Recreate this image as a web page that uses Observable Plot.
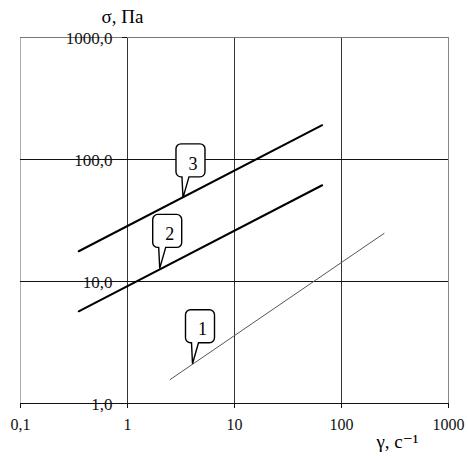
<!DOCTYPE html>
<html>
<head>
<meta charset="utf-8">
<script src="https://cdn.jsdelivr.net/npm/d3@7"></script>
<script src="https://cdn.jsdelivr.net/npm/@observablehq/plot@0.6"></script>
<style>
  html, body { margin: 0; padding: 0; background: #fff; }
  #chart { width: 468px; height: 456px; }
  #chart svg, #chart svg text { font-family: "Liberation Serif", "DejaVu Serif", serif !important; }
</style>
</head>
<body>
<div id="chart"></div>
<script>
// Axis ticks
const xTicks = [0.1, 1, 10, 100, 1000];
const xTickLabels = ["0,1", "1", "10", "100", "1000"];
const yTicks = [1, 10, 100, 1000];
const yTickLabels = ["1,0", "10,0", "100,0", "1000,0"];
const xTitle = "γ, с⁻¹";
const yTitle = "σ, Па";

// Series (straight lines in log-log, read at their ends)
const seriesIds = ["1", "2", "3"];
const seriesX = [[2.5, 250], [0.35, 66], [0.35, 66]];
const seriesY = [[1.57, 24.8], [5.7, 61.5], [17.7, 191]];

// Callout anchor points on the lines
const calloutIds = ["1", "2", "3"];
const calloutX = [4.05, 2.0, 3.3];
const calloutY = [2.12, 12.8, 48.5];

const lineRows = seriesIds.flatMap((id, i) =>
  seriesX[i].map((x, j) => ({id, x, y: seriesY[i][j]})));
const callouts = calloutIds.map((id, i) => ({id, x: calloutX[i], y: calloutY[i]}));
const xLabelOf = new Map(xTicks.map((t, i) => [t, xTickLabels[i]]));
const yRows = yTicks.map((t, i) => ({y: t, label: yTickLabels[i]}));

// Callout balloon symbol drawn relative to its anchor (the tip)
const balloon = {
  draw(ctx) {
    const L = -7, R = 22, T = -54, B = -21, r = 5;
    ctx.moveTo(L + r, T);
    ctx.lineTo(R - r, T);
    ctx.arcTo(R, T, R, T + r, r);
    ctx.lineTo(R, B - r);
    ctx.arcTo(R, B, R - r, B, r);
    ctx.lineTo(6, B);
    ctx.lineTo(0, 0);
    ctx.lineTo(-1, B);
    ctx.lineTo(L + r, B);
    ctx.arcTo(L, B, L, B - r, r);
    ctx.lineTo(L, T + r);
    ctx.arcTo(L, T, L + r, T, r);
    ctx.closePath();
  }
};

const font = "Liberation Serif";

const chart = Plot.plot({
  width: 468,
  height: 456,
  marginLeft: 20,
  marginRight: 20,
  marginTop: 37,
  marginBottom: 53,
  style: {fontFamily: font, background: "#fff", overflow: "visible"},
  x: {type: "log", domain: [0.1, 1000], axis: null},
  y: {type: "log", domain: [1, 1000], axis: null},
  marks: [
    // vertical grid
    Plot.ruleX(xTicks, {stroke: (d, i) => i === 0 ? "#b0b0b0" : (i === 4 ? "#888" : "#333"), strokeWidth: 1}),
    // horizontal grid
    Plot.ruleY(yTicks, {stroke: (d, i) => i === 3 ? "#777" : "#111", strokeWidth: 1}),
    // y-axis tick marks at x = 1
    Plot.ruleY(yTicks, {x1: 1, x2: 1, insetLeft: -5, stroke: "#111"}),
    // x-axis tick marks below the axis
    Plot.ruleX(xTicks, {y1: 1, y2: 1, insetBottom: -5, stroke: "#111"}),
    // y tick labels next to the vertical axis at x = 1
    Plot.text(yRows, {x: () => 1, y: "y", text: "label", textAnchor: "end", dx: -15, dy: 1, fontSize: 17, fontFamily: font, fill: "#111"}),
    // x tick labels
    Plot.text(xTicks, {x: d => d, y: () => 1, text: d => xLabelOf.get(d), dy: 21, fontSize: 16, fontFamily: font, fill: "#111"}),
    // lines
    Plot.line(lineRows, {x: "x", y: "y", z: "id",
      stroke: d => d.id === "1" ? "#555" : "#000",
      strokeWidth: d => d.id === "1" ? 1 : 2}),
    // callouts
    Plot.dot(callouts, {x: "x", y: "y", symbol: balloon, r: 5, fill: "#fff", stroke: "#000", strokeWidth: 1.4}),
    Plot.text(callouts, {x: "x", y: "y", text: "id", dx: 10, dy: -34, fontSize: 18, fontFamily: font, fill: "#000"}),
    // axis titles
    Plot.text([yTitle], {x: () => 1, y: () => 1000, text: d => d, dx: -5, dy: -21, fontSize: 19, fontFamily: font, fill: "#000"}),
    Plot.text([xTitle], {x: () => 1000, y: () => 1, text: d => d, dx: -51, dy: 38, fontSize: 19, fontFamily: font, fill: "#000"})
  ]
});
document.getElementById("chart").appendChild(chart);
</script>
</body>
</html>
